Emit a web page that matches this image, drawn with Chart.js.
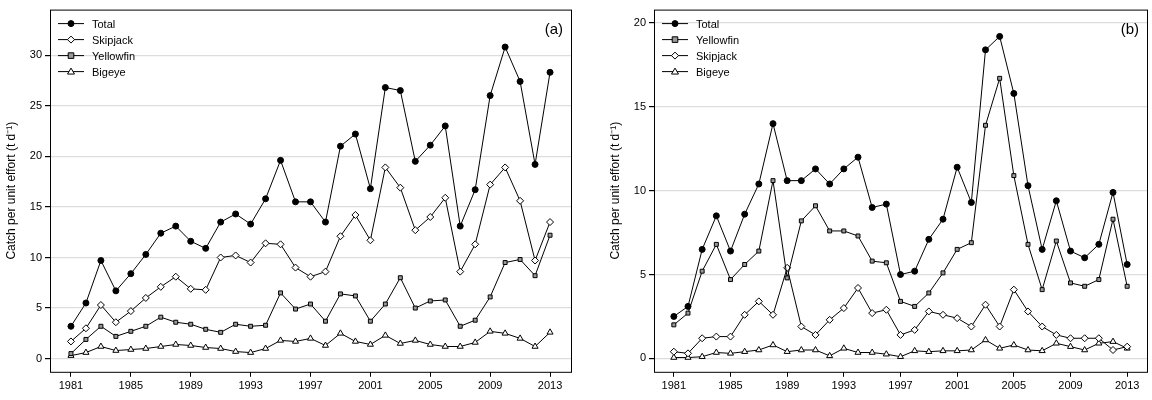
<!DOCTYPE html>
<html>
<head>
<meta charset="utf-8">
<script src="https://cdn.jsdelivr.net/npm/chart.js@4"></script>
<style>
  body { margin: 0; background: #fff; }
  .wrap { display: flex; width: 1152px; height: 400px; }
  .panel { position: relative; width: 576px; height: 400px; }
</style>
</head>
<body>
<div class="wrap">
  <div class="panel"><canvas id="ca"></canvas></div>
  <div class="panel"><canvas id="cb"></canvas></div>
</div>
<script>
const years = [];
for (let y = 1981; y <= 2013; y++) years.push(y);

// panel (a)
const totalA = [3.2,5.5,9.7,6.7,8.4,10.3,12.4,13.1,11.6,10.9,13.5,14.3,13.3,15.8,19.6,15.5,15.5,13.5,21.0,22.2,16.8,26.8,26.5,19.5,21.1,23.0,13.1,16.7,26.0,30.8,27.4,19.2,28.3];
const skipA = [1.7,3.0,5.3,3.6,4.7,6.0,7.1,8.1,6.9,6.8,10.0,10.2,9.5,11.4,11.3,9.0,8.1,8.6,12.1,14.2,11.7,18.9,16.9,12.7,14.0,15.9,8.6,11.3,17.2,18.9,15.6,9.7,13.5];
const yellA = [0.5,1.9,3.2,2.2,2.7,3.2,4.1,3.6,3.4,2.9,2.6,3.4,3.2,3.3,6.5,4.9,5.4,3.7,6.4,6.2,3.7,5.4,8.0,5.0,5.7,5.8,3.2,3.8,6.1,9.5,9.8,8.2,12.2];
const bigA = [0.3,0.6,1.2,0.8,0.9,1.0,1.2,1.4,1.3,1.1,1.0,0.7,0.6,1.0,1.8,1.7,2.0,1.3,2.5,1.7,1.4,2.3,1.5,1.8,1.4,1.2,1.2,1.6,2.7,2.5,2.0,1.2,2.6];

// panel (b)
const totalB = [2.5,3.1,6.5,8.5,6.4,8.6,10.4,14.0,10.6,10.6,11.3,10.4,11.3,12.0,9.0,9.2,5.0,5.2,7.1,8.3,11.4,9.3,18.4,19.2,15.8,10.3,6.5,9.4,6.4,6.0,6.8,9.9,5.6];
const yellB = [2.0,2.7,5.2,6.8,4.7,5.6,6.4,10.6,4.8,8.2,9.1,7.6,7.6,7.3,5.8,5.7,3.4,3.1,3.9,5.1,6.5,6.9,13.9,16.7,10.9,6.8,4.1,7.0,4.5,4.3,4.7,8.3,4.3];
const skipB = [0.4,0.3,1.2,1.3,1.3,2.6,3.4,2.6,5.4,1.9,1.4,2.3,3.0,4.2,2.7,2.9,1.4,1.7,2.8,2.6,2.4,1.9,3.2,1.9,4.1,2.8,1.9,1.4,1.2,1.2,1.2,0.5,0.7];
const bigB = [0.05,0.05,0.1,0.35,0.3,0.4,0.5,0.8,0.4,0.5,0.5,0.15,0.6,0.35,0.35,0.25,0.1,0.45,0.4,0.45,0.45,0.5,1.1,0.6,0.8,0.5,0.45,0.9,0.7,0.5,0.9,1.0,0.6];

const styles = {
  Total: { pointStyle: "circle", pointRadius: 3, pointBackgroundColor: "#000" },
  Skipjack: { pointStyle: "rectRot", pointRadius: 3.5, pointBackgroundColor: "#fff" },
  Yellowfin: { pointStyle: "rect", pointRadius: 2.8, pointBackgroundColor: "#999" },
  Bigeye: { pointStyle: "triangle", pointRadius: 3.5, pointBackgroundColor: "#fff" }
};

function ds(name, vals) {
  return Object.assign({
    label: name,
    data: vals.map((v, i) => ({ x: years[i], y: v })),
    borderColor: "#000",
    borderWidth: 1,
    pointBorderColor: "#000",
    pointBorderWidth: 1,
    tension: 0
  }, styles[name]);
}

const font = { family: "Liberation Sans, Arial", size: 11 };

// box around the plot + legend inside top-left + panel letter
const decor = {
  id: "decor",
  afterDraw(chart, args, opts) {
    const { ctx, chartArea: a } = chart;
    ctx.save();
    ctx.strokeStyle = "#000";
    ctx.lineWidth = 1;
    ctx.strokeRect(a.left + 0.5, a.top + 0.5, a.right - a.left, a.bottom - a.top);
    ctx.font = "11px Liberation Sans, Arial";
    ctx.textBaseline = "middle";
    chart.data.datasets.forEach((d, i) => {
      const y = a.top + 14 + i * 16;
      const x = a.left + 8;
      ctx.beginPath();
      ctx.moveTo(x, y); ctx.lineTo(x + 26, y);
      ctx.stroke();
      ctx.fillStyle = d.pointBackgroundColor;
      const r = d.pointRadius;
      const cx = x + 13;
      ctx.beginPath();
      if (d.pointStyle === "circle") ctx.arc(cx, y, r, 0, Math.PI * 2);
      else if (d.pointStyle === "rect") ctx.rect(cx - r, y - r, 2 * r, 2 * r);
      else if (d.pointStyle === "rectRot") { ctx.moveTo(cx, y - r); ctx.lineTo(cx + r, y); ctx.lineTo(cx, y + r); ctx.lineTo(cx - r, y); ctx.closePath(); }
      else { ctx.moveTo(cx, y - r); ctx.lineTo(cx + r, y + r * 0.7); ctx.lineTo(cx - r, y + r * 0.7); ctx.closePath(); }
      ctx.fill(); ctx.stroke();
      ctx.fillStyle = "#000";
      ctx.fillText(d.label, x + 34, y + 1);
    });
    ctx.font = "15px Liberation Sans, Arial";
    ctx.textAlign = "right";
    ctx.fillText(opts.letter, a.right - 8, a.top + 20);
    ctx.restore();
  }
};

function make(id, sets, yMin, yMax, yTop, step, letter, padLeft) {
  new Chart(document.getElementById(id), {
    type: "line",
    data: { datasets: sets },
    options: {
      responsive: false,
      animation: false,
      layout: { padding: { left: padLeft, right: 2, top: 8, bottom: 4 } },
      plugins: { legend: { display: false }, tooltip: { enabled: false }, decor: { letter: letter } },
      scales: {
        x: {
          type: "linear", min: 1979.6, max: 2014.4,
          afterBuildTicks: s => { s.ticks = []; for (let y = 1981; y <= 2013; y += 4) s.ticks.push({ value: y }); },
          grid: { drawOnChartArea: false, drawTicks: true, tickLength: 5, color: "#000" },
          border: { display: false },
          ticks: { color: "#000", font: font, padding: 3, maxRotation: 0, autoSkip: false, callback: v => String(v) }
        },
        y: {
          min: yMin, max: yMax,
          afterBuildTicks: s => { s.ticks = []; for (let v = 0; v <= yTop; v += step) s.ticks.push({ value: v }); },
          grid: { color: "#ddd", tickColor: "#000", tickLength: 5, lineWidth: 1.2 },
          border: { display: false },
          ticks: { color: "#000", font: font, padding: 3 },
          title: { display: true, text: "Catch per unit effort (t d\u207B\u00B9)", color: "#000", font: { family: font.family, size: 12 }, padding: 2 },
          afterFit: s => { s.width = 48; }
        }
      }
    },
    plugins: [decor]
  });
}

const ca = document.getElementById("ca"); ca.width = 576; ca.height = 400;
const cb = document.getElementById("cb"); cb.width = 576; cb.height = 400;

make("ca", [ds("Total", totalA), ds("Skipjack", skipA), ds("Yellowfin", yellA), ds("Bigeye", bigA)], -1.3, 34.5, 30, 5, "(a)", 2);
make("cb", [ds("Total", totalB), ds("Yellowfin", yellB), ds("Skipjack", skipB), ds("Bigeye", bigB)], -0.8, 20.8, 20, 5, "(b)", 30);
</script>
</body>
</html>
